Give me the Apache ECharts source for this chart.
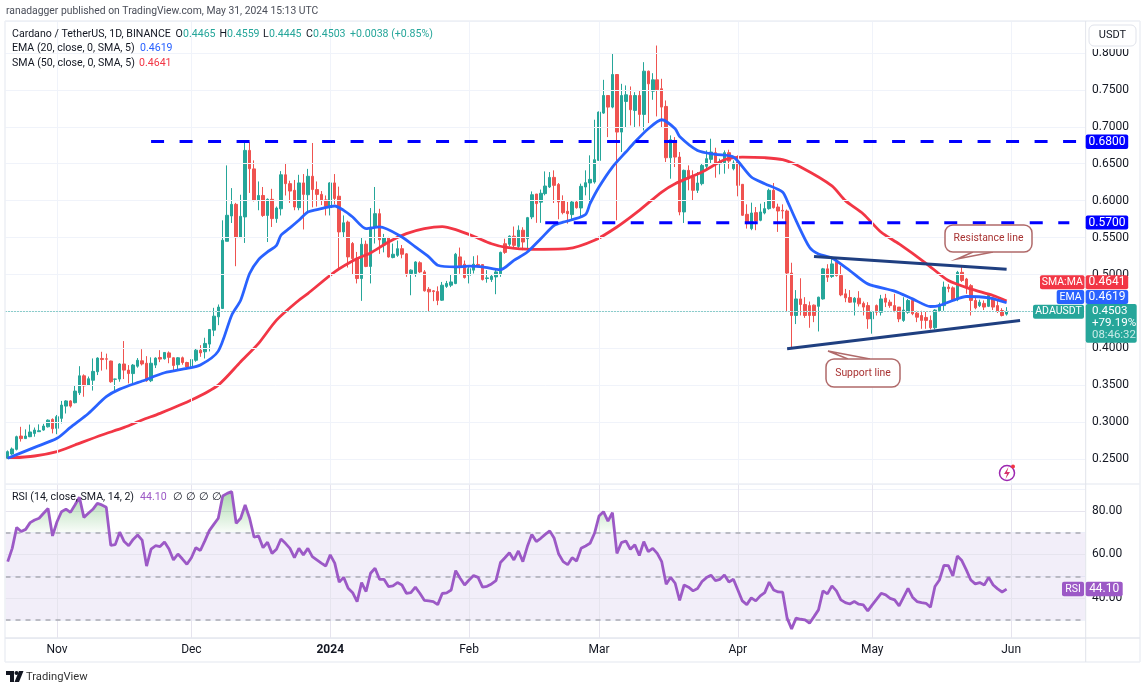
<!DOCTYPE html>
<html><head><meta charset="utf-8">
<style>html,body{margin:0;padding:0;background:#fff}#c{width:1147px;height:688px}</style>
<script src="https://cdn.jsdelivr.net/npm/echarts@6/dist/echarts.min.js"></script>
</head><body><div id="c"></div>
<script>
const monthTickIdx = [11,41,72,103,132,163,193,224];
const monthLabels = ['Nov','Dec','2024','Feb','Mar','Apr','May','Jun'];
const priceTicks = [0.25,0.30,0.35,0.40,0.45,0.50,0.55,0.60,0.65,0.70,0.75,0.80];
const rsiTicks = [40,60,80];
const opens = [
.2514,.2572,.2635,.2815,.278,.2806,.285,.2874,.2896,.294,
.304,.292,.3054,.322,.329,.3266,.34,.363,.35,.357,
.3685,.3865,.386,.383,.3583,.3586,.379,.3707,.366,.376,
.3833,.38,.3563,.3775,.3878,.386,.394,.3874,.378,.3874,
.381,.375,.384,.3977,.3955,.4059,.4248,.4428,.4541,.545,
.5793,.595,.55,.578,.668,.643,.6,.607,.58,.6018,
.5757,.589,.635,.623,.614,.5905,.624,.608,.633,.615,
.6085,.601,.5905,.624,.606,.5577,.571,.542,.5216,.4946,
.541,.511,.564,.5824,.54,.55,.523,.526,.535,.528,
.5014,.5014,.516,.5036,.48,.478,.477,.4653,.484,.4856,
.4878,.5239,.514,.499,.506,.5137,.5135,.4946,.4932,.4968,
.501,.5417,.541,.552,.538,.56,.5485,.578,.609,.598,
.6095,.6185,.6315,.622,.5995,.5856,.5811,.5982,.5901,.6185,
.6239,.6252,.6545,.7185,.7423,.7266,.7707,.6928,.7342,.7423,
.7221,.7423,.7167,.7752,.7482,.7635,.7514,.7275,.6581,.6815,
.659,.5847,.641,.632,.614,.623,.6464,.6559,.6649,.65,
.6514,.6649,.6432,.6523,.6221,.5815,.5622,.5838,.5734,.5833,
.5892,.614,.5914,.5869,.586,.502,.4446,.467,.4595,.458,
.4586,.457,.467,.5077,.4973,.5167,.4986,.4739,.469,.4626,
.468,.461,.458,.44,.458,.449,.468,.4626,.458,.456,
.438,.449,.4649,.4478,.4446,.442,.438,.428,.451,.458,
.483,.482,.466,.503,.494,.485,.465,.458,.461,.457,
.4685,.458,.4514,.4465];
const closes = [
.2604,.264,.2806,.278,.2815,.287,.2896,.2887,.295,.303,
.2914,.3077,.3234,.329,.322,.3423,.363,.3495,.359,.369,
.387,.385,.3855,.355,.3586,.379,.3707,.366,.3775,.384,
.379,.3563,.38,.387,.3856,.3946,.388,.377,.3874,.381,
.375,.385,.3977,.394,.4068,.4257,.4437,.456,.5464,.5802,
.595,.55,.5788,.668,.6432,.6005,.607,.58,.6018,.5757,
.59,.635,.623,.613,.5914,.624,.6085,.633,.615,.6085,
.601,.592,.624,.603,.5577,.57,.5239,.5216,.4946,.541,
.511,.564,.5824,.547,.55,.5238,.5275,.535,.5275,.5014,
.506,.517,.5036,.478,.4766,.477,.465,.4856,.488,.49,
.5275,.5095,.496,.508,.514,.5124,.4932,.4955,.4977,.5036,
.53,.53,.552,.5395,.56,.544,.577,.608,.596,.61,
.6198,.6315,.6207,.5982,.5838,.5824,.5982,.5905,.6194,.6243,
.6288,.6554,.7198,.7423,.7266,.7707,.6928,.7423,.7432,.723,
.7423,.7167,.7752,.7581,.7635,.75,.7266,.6581,.6824,.659,
.5847,.641,.6297,.614,.6239,.6477,.6568,.6658,.65,.6523,
.6649,.6536,.6509,.6207,.5802,.5689,.5833,.5725,.5847,.5892,
.614,.5905,.586,.586,.502,.4446,.467,.4595,.4446,.4446,
.4446,.4694,.5077,.4964,.5144,.4986,.4725,.4685,.4626,.468,
.4604,.456,.44,.45,.449,.467,.4626,.458,.4514,.44,
.452,.4649,.447,.4423,.438,.438,.428,.452,.4595,.483,
.481,.465,.503,.492,.482,.465,.455,.4626,.456,.4716,
.456,.4505,.4446,.4503];
const highs = [
.262,.266,.282,.294,.2905,.297,.293,.2973,.298,.304,
.3054,.31,.329,.33,.33,.3505,.376,.365,.362,.3865,
.388,.3955,.393,.3835,.359,.38,.41,.3775,.379,.387,
.399,.3896,.388,.388,.3977,.395,.396,.388,.3884,.389,
.382,.386,.4,.4045,.4145,.426,.455,.4595,.5734,.6477,
.617,.597,.608,.679,.679,.6545,.626,.6185,.603,.616,
.592,.64,.651,.627,.628,.635,.636,.643,.678,.626,
.613,.607,.625,.636,.619,.58,.573,.544,.5306,.55,
.546,.59,.6185,.589,.555,.551,.542,.546,.54,.529,
.507,.518,.518,.506,.483,.479,.484,.49,.4914,.5005,
.5293,.5365,.519,.512,.5248,.526,.514,.506,.5,.507,
.531,.5485,.553,.565,.5665,.564,.578,.6125,.609,.615,
.6396,.6387,.641,.6239,.6072,.5982,.6,.6,.623,.641,
.6613,.7095,.7207,.7635,.7425,.7986,.771,.7581,.7559,.7545,
.7468,.7491,.7874,.776,.7725,.8099,.7649,.7356,.6883,.686,
.6658,.642,.6477,.641,.6387,.65,.668,.6838,.6716,.6568,
.668,.6689,.6545,.6613,.6225,.595,.5973,.5914,.5959,.5982,
.6162,.6239,.5959,.595,.588,.516,.479,.495,.4694,.4635,
.4595,.47,.509,.514,.521,.521,.512,.4806,.479,.4695,
.4775,.4635,.4626,.451,.4595,.4725,.4739,.466,.4739,.456,
.4694,.467,.467,.451,.451,.45,.4446,.453,.462,.4905,
.487,.484,.505,.511,.4955,.487,.469,.466,.465,.474,
.47,.466,.4545,.4559];
const lows = [
.2505,.256,.262,.274,.2775,.28,.2806,.287,.2887,.293,
.2851,.284,.2986,.312,.32,.3257,.337,.3347,.35,.343,
.364,.37,.3716,.3536,.3405,.355,.3586,.3527,.3527,.374,
.377,.355,.3545,.3735,.3815,.385,.38,.3707,.3716,.378,
.372,.374,.382,.3887,.3865,.396,.4167,.4315,.4535,.545,
.5698,.5113,.55,.5428,.6104,.599,.587,.578,.544,.5644,
.57,.58,.607,.597,.587,.587,.561,.585,.591,.592,
.594,.58,.58,.595,.506,.55,.5095,.5,.488,.4644,
.51,.488,.542,.528,.53,.523,.522,.524,.522,.497,
.472,.497,.502,.477,.4495,.464,.4586,.4644,.482,.483,
.487,.501,.4946,.488,.5014,.51,.492,.489,.49,.4734,
.497,.528,.538,.537,.536,.533,.535,.575,.57,.57,
.6072,.6171,.5968,.5748,.5815,.5689,.5734,.5892,.5788,.6072,
.5959,.623,.654,.7175,.686,.725,.5734,.6658,.6995,.7018,
.6995,.7005,.695,.705,.7365,.714,.6995,.6523,.6297,.6455,
.5802,.5698,.614,.6005,.6104,.6207,.641,.65,.6311,.6356,
.6365,.6432,.641,.6059,.5793,.5622,.56,.56,.5721,.5815,
.5878,.5892,.5577,.5757,.45,.3995,.433,.4446,.4414,.428,
.4356,.423,.466,.49,.4955,.4973,.4707,.4626,.4617,.4446,
.4568,.4446,.4266,.42,.4446,.4446,.456,.455,.449,.4356,
.436,.447,.445,.4356,.4266,.4266,.4257,.4257,.45,.451,
.476,.464,.464,.49,.474,.4446,.453,.456,.452,.456,
.452,.448,.4433,.4445];
const emaReadings = [[0,.2514],[6,.2662],[11,.2784],[14,.2932],[18,.312],[22,.3347],[25,.345],[30,.3559],[35,.3671],[40,.373],[43,.3775],[47,.3964],[50,.445],[52,.4653],[54,.5014],[56,.5203],[58,.5306],[60,.5396],[61,.5532],[63,.5631],[65,.5734],[67,.5847],[70,.5892],[73,.5928],[75,.5869],[77,.5779],[80,.5622],[83,.5644],[88,.5509],[91,.5374],[94,.5239],[96,.5126],[100,.5104],[103,.5113],[106,.5104],[110,.5066],[113,.5192],[116,.5305],[119,.5485],[122,.5665],[124,.571],[126,.5741],[129,.5813],[130,.5959],[132,.6185],[135,.6455],[138,.6658],[140,.6793],[143,.6973],[146,.7095],[149,.6973],[150,.6869],[154,.668],[158,.6626],[162,.659],[166,.632],[169,.623],[173,.6117],[174,.60],[176,.573],[179,.5369],[181,.5279],[184,.5225],[188,.5054],[192,.4874],[198,.4775],[202,.4671],[206,.4568],[208,.4581],[211,.4649],[214,.4703],[219,.4685],[223,.4619]];
const smaReadings = [[0,.2514],[6,.2545],[11,.2604],[15,.2694],[21,.2829],[26,.2932],[30,.3032],[34,.3122],[41,.3302],[47,.3505],[52,.382],[56,.4068],[60,.4383],[65,.4653],[67,.4743],[73,.5036],[78,.5216],[81,.5293],[85,.5441],[89,.5554],[93,.5622],[97,.5649],[100,.5608],[104,.5518],[108,.5417],[111,.5372],[117,.5342],[125,.5351],[131,.5464],[136,.5644],[141,.5869],[146,.6117],[149,.623],[155,.6387],[160,.6554],[164,.659],[169,.6581],[173,.6554],[177,.6455],[184,.62],[187,.60],[191,.582],[195,.5572],[199,.5414],[205,.5153],[210,.4919],[215,.4806],[220,.4716],[223,.4641]];
const rsi = [
56.7,62.8,72.4,70.5,71.5,74.6,75.8,76.6,78.9,81.1,
68.5,75,79.6,80.8,79.3,82.7,86.2,77,78.9,80.7,
83.4,82.7,81.6,64.2,64.5,70.2,65.9,64,66.9,68.9,
66.6,54.7,62.4,64,63.6,65.7,62.5,57.5,60.2,57.9,
55.5,58.5,63.1,61.8,66.2,70.9,73.8,76.6,86.8,88,
88.8,74.3,76.6,82.7,76.6,67.9,68.5,63.1,65.6,60.5,
62.4,67.1,65.1,62.8,58.5,62.8,59.8,62.8,59,57.5,
56,54.7,59.8,56,47.3,49.5,44.5,42.5,38.4,47.1,
43,51.4,53.7,48.6,48.6,45.3,45.6,47.1,46,42.2,
42.5,45,42.2,39,38.7,38.4,37,42.1,42.4,43.7,
52.6,49.1,46,48.3,50.3,49.5,45,45.4,46.5,48,
56.3,58.5,60.8,57.5,61.6,56.7,63.6,69.2,65.9,67.4,
69.2,70.8,67.4,60.2,56.7,55.3,58.5,57,62.8,63.9,
65.1,69.7,77.6,79.6,75.3,79.2,60.5,65.4,66.2,62.4,
64.4,59.5,65.9,61.3,62.8,60.5,56.7,46.3,49.5,46.8,
38.9,46,45,43.3,44.4,47.6,49.4,50.5,48,48.6,
50.6,47.4,48.6,43.7,38.7,37,40.1,38.7,41,42.5,
47.3,43.7,42.8,42.7,30.8,25.9,30.8,30.3,30,28.5,
31.5,34.6,43.3,41.9,45.6,43.3,39.2,37.9,37.3,38.4,
37.2,36.9,34.1,36.9,39.5,42.2,41.5,39.9,39.2,36.4,
40.4,44.4,40.4,38.4,37.9,37.6,35.8,45.3,48.3,55,
54.9,50.2,59.3,57.2,52.9,48.3,46.5,47.1,46,49.5,
46,44.2,42.8,44.1];
const resistanceLine = [[180,.5243],[223,.5072]];
const supportLine = [[174,.3995],[226,.4378]];
const level680 = [[32,.68],[240,.68]];
const level570 = [[120,.57],[237,.57]];
const lastClose = 0.4503;

const FONT = 'Roboto, "Noto Sans", sans-serif';
const TEXT = '#131722', GREY = '#f0f3fa', TEAL = '#26a69a', RED = '#f23645', BLUE = '#2962ff', PURPLE = '#9c59c6', NAVY = '#1f3f80', ARROW = '#a83232';
const UP = '#26a69a', DOWN = '#ef5350';

const categories = [];
for (let i = 0; i < 241; i++) {
  const d = new Date(Date.UTC(2023, 9, 21 + i));
  categories.push(d.toISOString().slice(0, 10));
}
const candleData = opens.map((o, i) => [o, closes[i], lows[i], highs[i]]);
const monthLine = monthTickIdx.map(i => ({ xAxis: categories[i] }));

function txt(x, y, s, fill, size) {
  return { type: 'text', x, y, z: 50, style: { text: s, fill, font: (size || 10.6) + 'px ' + FONT, textVerticalAlign: 'middle' } };
}
function box(x, y, w, h, fill, r) {
  return { type: 'rect', z: 45, shape: { x, y, width: w, height: h, r: r || 0 }, style: { fill } };
}
function tag(x, y, w, h, fill, s, size) {
  return [box(x, y, w, h, fill, 2),
    { type: 'text', z: 50, x: x + w / 2, y: y + h / 2, style: { text: s, fill: '#fff', font: (size || 12) + 'px ' + FONT, textAlign: 'center', textVerticalAlign: 'middle' } }];
}
function callout(x, y, w, h, label, tip, baseA, baseB) {
  const c = '#b06a6a';
  return [
    { type: 'polyline', z: 46, shape: { points: [baseA, tip, baseB] }, style: { stroke: c, fill: '#fff', lineWidth: 1.5 } },
    { type: 'rect', z: 47, shape: { x, y, width: w, height: h, r: 8 }, style: { fill: '#fff', stroke: c, lineWidth: 1.5 } },
    { type: 'text', z: 50, x: x + w / 2, y: y + h / 2, style: { text: label, fill: ARROW, font: '10.4px ' + FONT, textAlign: 'center', textVerticalAlign: 'middle' } }
  ];
}
function hline(x1, y1, x2, y2, c, w) {
  return { type: 'line', z: 40, shape: { x1, y1, x2, y2 }, style: { stroke: c, lineWidth: w || 1 } };
}

const graphics = [
  hline(5, 21, 1140, 21, '#eceff5', 1.5), hline(5, 21, 5, 662, '#eceff5', 1.5),
  hline(1140, 21, 1140, 662, '#eceff5', 1.5), hline(5, 662, 1140, 662, '#eceff5', 1.5),
  hline(5, 484, 1140, 484, '#eceff5', 1.5), hline(5, 638, 1140, 638, '#e4e7ee', 1.5),
  hline(1085.7, 21, 1085.7, 662, '#e0e3eb', 1),
  txt(6, 11, 'ranadagger published on TradingView.com, May 31, 2024 15:13 UTC', '#4a4e59', 10.35),
  txt(12, 34, 'Cardano / TetherUS, 1D, BINANCE', TEXT),
  txt(175.5, 34, 'O', TEXT), txt(183, 34, '0.4465', TEAL),
  txt(219.5, 34, 'H', TEXT), txt(227, 34, '0.4559', TEAL),
  txt(263, 34, 'L', TEXT), txt(269, 34, '0.4445', TEAL),
  txt(306, 34, 'C', TEXT), txt(313, 34, '0.4503', TEAL),
  txt(350, 34, '+0.0038 (+0.85%)', TEAL),
  txt(12, 48.5, 'EMA (20, close, 0, SMA, 5)', TEXT), txt(140, 48.5, '0.4619', BLUE),
  txt(12, 63, 'SMA (50, close, 0, SMA, 5)', TEXT), txt(139, 63, '0.4641', RED),
  txt(12, 497, 'RSI (14, close, SMA, 14, 2)', TEXT), txt(140, 497, '44.10', PURPLE),
  txt(173, 497, '∅', TEXT), txt(186, 497, '∅', TEXT), txt(199, 497, '∅', TEXT), txt(212, 497, '∅', TEXT),
  box(1086.5, 22, 52, 27, '#fff'),
  { type: 'rect', z: 47, shape: { x: 1089, y: 25, width: 47, height: 21, r: 5 }, style: { fill: '#fff', stroke: '#e0e3eb', lineWidth: 1 } },
  { type: 'text', z: 50, x: 1112.5, y: 35.5, style: { text: 'USDT', fill: TEXT, font: '11px ' + FONT, textAlign: 'center', textVerticalAlign: 'middle' } },
  ...tag(1085.7, 134.5, 42.5, 14.5, '#0000ff', '0.6800'),
  ...tag(1085.7, 215.5, 42.5, 14, '#0000ff', '0.5700'),
  ...tag(1040, 275.3, 44.5, 14, RED, 'SMA:MA', 10.5), ...tag(1085.7, 275.3, 42.5, 14, RED, '0.4641'),
  ...tag(1056.7, 290, 27.5, 14, BLUE, 'EMA', 10.5), ...tag(1085.7, 290, 42.5, 14, BLUE, '0.4619'),
  ...tag(1033, 304.7, 51, 14, TEAL, 'ADAUSDT', 10.5),
  box(1085.7, 304, 51, 38.7, TEAL, 2),
  txt(1092, 311.5, '0.4503', '#fff', 11.6), txt(1092, 323.5, '+79.19%', '#fff', 11.6), txt(1092, 335.5, '08:46:32', '#c8ebe7', 11.4),
  ...tag(1062, 581.7, 22, 14.5, PURPLE, 'RSI', 10.5), ...tag(1085.7, 581.7, 37, 14.5, PURPLE, '44.10'),
  ...callout(945, 225, 87, 27, 'Resistance line', [957, 259], [973, 252], [993, 252]),
  ...callout(826, 359, 74, 28, 'Support line', [828, 351], [848, 359], [870, 359]),
  { type: 'circle', z: 46, shape: { cx: 1007, cy: 473, r: 7.5 }, style: { fill: '#fff', stroke: '#9c27b0', lineWidth: 1.5 } },
  { type: 'polygon', z: 47, shape: { points: [[1008.5, 467], [1004, 474], [1007, 474], [1005.5, 479], [1010, 472], [1007, 472]] }, style: { fill: '#d6336c' } },
  { type: 'circle', z: 47, shape: { cx: 1013, cy: 466.5, r: 2 }, style: { fill: '#f23645' } },
  { type: 'polygon', z: 46, shape: { points: [[6, 671], [14, 671], [14, 682], [10, 682], [10, 675], [6, 675]] }, style: { fill: '#131722' } },
  { type: 'circle', z: 46, shape: { cx: 16.5, cy: 673, r: 2 }, style: { fill: '#131722' } },
  { type: 'polygon', z: 46, shape: { points: [[19, 671], [23.5, 671], [19, 682], [14.5, 682]] }, style: { fill: '#131722' } },
  txt(26, 677, 'TradingView', '#333', 11.2)
];

const chart = echarts.init(document.getElementById('c'), null, { renderer: 'canvas' });
const G0 = { left: 5.5, top: 21, width: 1079.5, height: 463 };
const G1 = { left: 5.5, top: 484, width: 1079.5, height: 154 };
chart.setOption({
  animation: false,
  backgroundColor: '#fff',
  textStyle: { fontFamily: FONT },
  grid: [G0, G1],
  xAxis: [
    { type: 'category', gridIndex: 0, data: categories, axisLine: { show: false }, axisTick: { show: false }, axisLabel: { show: false }, splitLine: { show: false } },
    { type: 'category', gridIndex: 1, data: categories, axisLine: { show: false }, axisTick: { show: false }, splitLine: { show: false },
      axisLabel: { show: true, color: TEXT, fontSize: 12, fontFamily: FONT, margin: 6, hideOverlap: false,
        interval: i => monthTickIdx.includes(i),
        formatter: (v) => { const k = monthTickIdx.findIndex(i => categories[i] === v); const s = k >= 0 ? monthLabels[k] : ''; return s === '2024' ? '{b|2024}' : s; },
        rich: { b: { fontWeight: 'bold', fontSize: 12, color: TEXT, fontFamily: FONT } } } }
  ],
  yAxis: [
    { type: 'value', gridIndex: 0, position: 'right', min: 0.2166, max: 0.8431, axisLine: { show: false }, axisTick: { show: false },
      splitLine: { show: true, lineStyle: { color: GREY, width: 1 } },
      axisLabel: { show: true, customValues: priceTicks, color: TEXT, fontSize: 12, fontFamily: FONT, margin: 7, padding: [2, 0, 0, 0], formatter: v => v.toFixed(4) } },
    { type: 'value', gridIndex: 1, position: 'right', min: 21.7, max: 92.3, axisLine: { show: false }, axisTick: { show: false },
      splitLine: { show: true, lineStyle: { color: GREY, width: 1 } },
      axisLabel: { show: true, customValues: rsiTicks, color: TEXT, fontSize: 12, fontFamily: FONT, margin: 7, padding: [1, 0, 0, 0], formatter: v => v.toFixed(2) } }
  ],
  series: [
    { type: 'line', name: 'grid0', xAxisIndex: 0, yAxisIndex: 0, z: 1, data: [], silent: true,
      markLine: { silent: true, symbol: 'none', label: { show: false }, lineStyle: { color: GREY, width: 1, type: 'solid' },
        data: monthLine.concat(priceTicks.map(v => ({ yAxis: v }))) } },
    { type: 'line', name: 'grid1', xAxisIndex: 1, yAxisIndex: 1, z: 1, data: [], silent: true,
      markLine: { silent: true, symbol: 'none', label: { show: false }, lineStyle: { color: '#e6e4ee', width: 1, type: 'solid' },
        data: monthLine.concat(rsiTicks.map(v => ({ yAxis: v }))) } },
    { type: 'candlestick', name: 'ADAUSDT', xAxisIndex: 0, yAxisIndex: 0, z: 3, barWidth: 3, data: candleData, silent: true,
      itemStyle: { color: UP, color0: DOWN, borderColor: UP, borderColor0: DOWN, borderWidth: 1 },
      markLine: { silent: true, symbol: 'none', label: { show: false }, lineStyle: { color: TEAL, width: 1, type: [1, 2] }, data: [{ yAxis: lastClose }] } },
    { type: 'line', name: 'EMA', xAxisIndex: 0, yAxisIndex: 0, z: 5, data: emaReadings, showSymbol: false, smooth: 0.25, lineStyle: { color: BLUE, width: 2.8 } },
    { type: 'line', name: 'SMA', xAxisIndex: 0, yAxisIndex: 0, z: 4, data: smaReadings, showSymbol: false, smooth: 0.25, lineStyle: { color: RED, width: 2.8 } },
    { type: 'line', name: 'L680', xAxisIndex: 0, yAxisIndex: 0, z: 6, data: level680, showSymbol: false, lineStyle: { color: '#0000ff', width: 3, type: [13, 15.5] } },
    { type: 'line', name: 'L570', xAxisIndex: 0, yAxisIndex: 0, z: 6, data: level570, showSymbol: false, lineStyle: { color: '#0000ff', width: 3, type: [13, 15.5] } },
    { type: 'line', name: 'Resistance', xAxisIndex: 0, yAxisIndex: 0, z: 7, data: resistanceLine, showSymbol: false, lineStyle: { color: NAVY, width: 3 } },
    { type: 'line', name: 'Support', xAxisIndex: 0, yAxisIndex: 0, z: 7, data: supportLine, showSymbol: false, lineStyle: { color: NAVY, width: 3 } },
    { type: 'line', name: 'RSI', xAxisIndex: 1, yAxisIndex: 1, z: 5, data: rsi, showSymbol: false, lineStyle: { color: PURPLE, width: 2.8 },
      areaStyle: { origin: 70, opacity: 1, color: { type: 'linear', global: true, x: 0, y: 484, x2: 0, y2: 638, colorStops: [
        { offset: 0, color: 'rgba(76,175,80,0.55)' }, { offset: 0.316, color: 'rgba(76,175,80,0.03)' }, { offset: 0.317, color: 'rgba(76,175,80,0)' }, { offset: 1, color: 'rgba(76,175,80,0)' } ] } },
      markArea: { silent: true, itemStyle: { color: 'rgba(126,87,194,0.1)' }, data: [[{ yAxis: 70 }, { yAxis: 30 }]] },
      markLine: { silent: true, symbol: 'none', label: { show: false }, lineStyle: { color: '#a9abb3', width: 1.5, type: [5, 5] }, data: [{ yAxis: 70 }, { yAxis: 50 }, { yAxis: 30 }] } }
  ],
  graphic: graphics
});
</script></body></html>
